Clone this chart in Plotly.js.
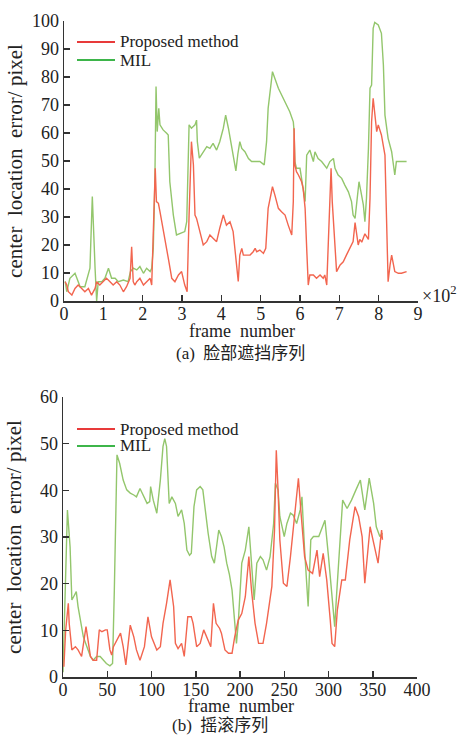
<!DOCTYPE html>
<html><head><meta charset="utf-8">
<script src="https://cdn.plot.ly/plotly-3.0.1.min.js"></script>
<style>html,body{margin:0;padding:0;background:#fff}</style>
</head><body>
<div id="chart" style="width:460px;height:738px"></div>
<script>
// ---------- data ----------
const seriesNames = ['Proposed method', 'MIL'];

// (a) face occlusion sequence (x in frames)
const aProposedFrames = [3,7,11,20,28,36,45,53,62,70,79,83,91,100,108,117,125,134,142,151,159,168,172,176,180,185,193,202,210,219,223,225,229,232,235,240,244,252,261,266,274,282,291,299,307,313,318,322,324,329,333,337,346,354,363,371,379,388,396,405,413,422,430,437,443,447,452,456,464,473,481,486,490,498,507,513,519,530,536,545,553,562,570,579,583,585,587,591,596,600,604,608,613,617,621,625,634,642,651,659,663,668,672,676,679,682,689,693,702,710,718,727,735,740,744,748,752,757,765,774,778,782,786,790,795,799,807,816,820,824,829,833,841,850,858,867,871];
const aProposedError = [6.9,5.7,3.3,2.1,4.5,5.7,4.5,3.3,4.5,2.1,4.5,6.9,5.7,6.9,8.1,6.9,5.7,6.9,5.7,3.3,5.1,8.1,19.4,6.9,5.7,6.9,8.1,5.7,6.9,8.1,5.7,14.0,30.7,47.4,35.5,34.9,31.9,26.0,18.8,14.6,8.1,6.9,9.3,10.5,5.7,3.3,30.7,52.1,56.9,48.6,30.7,29.5,24.8,20.0,21.2,23.6,22.4,21.2,26.0,30.7,27.1,28.3,24.8,16.0,7.0,16.4,18.8,16.4,16.4,16.4,17.6,18.8,17.6,18.2,17.0,18.8,33.1,40.8,37.9,33.1,31.9,30.7,27.1,23.6,35.5,61.7,48.6,46.2,45.0,43.8,42.6,40.2,33.1,18.8,5.7,9.3,9.3,8.1,9.3,8.1,9.3,5.7,18.8,35.5,47.4,35.5,18.8,10.5,12.9,14.0,16.4,18.8,21.2,28.0,24.0,20.0,22.0,21.0,24.0,22.0,36.7,64.0,72.4,66.4,60.5,62.9,59.3,52.1,30.7,6.9,12.9,16.4,10.5,9.9,9.9,10.5,10.5];
const aMilFrames = [3,7,15,28,41,53,66,72,79,83,87,96,104,113,121,130,138,151,163,169,176,185,193,202,210,219,223,227,231,234,237,241,244,252,261,265,269,278,286,295,307,312,316,318,324,333,337,339,344,354,363,371,379,388,396,405,411,418,426,432,437,442,447,452,460,469,477,486,498,509,515,519,524,530,545,562,574,583,585,587,591,600,604,608,613,617,621,625,634,638,646,655,668,676,685,689,697,706,714,723,731,735,740,744,750,755,761,765,769,774,778,782,784,786,790,799,807,812,816,824,833,841,845,858,871];
const aMilError = [7,3.3,8.1,9.9,5.1,5.1,11.7,37.3,11.7,0,6.9,6.9,8.1,11.7,8.1,8.1,6.9,7.5,6.9,10.5,11.7,11.1,12.3,9.9,11.7,10.5,11.7,18.8,42.6,76.6,60.5,68.8,62.9,61.1,59.9,59.3,42.6,30.7,23.6,24.2,24.8,28.3,54.5,62.9,61.7,62.9,64.6,56.9,51.0,53.3,55.1,54.5,56.3,53.9,56.9,61.7,66.4,61.7,55.7,50.0,46.5,52.5,56.9,54.5,53.3,50.9,49.8,49.8,49.8,48.6,56.9,68.8,74.8,81.9,76.0,71.2,67.6,64.0,60.5,49.8,47.4,47.4,43.8,39.0,35.5,52.1,53.3,53.9,49.8,53.3,50.9,49.8,47.4,49.8,50.9,47.4,45.0,43.8,41.4,39.0,35.5,30.7,29.5,35.5,42.6,39.0,34.3,28.3,36.7,54.5,76.0,77.1,90.2,97.4,99.5,98.6,95.6,84.3,66.4,58.1,53.3,45.0,49.8,49.8,49.8];

// (b) rock sequence
const bProposedFrames = [1,3,6,7,10,14,17,21,26,29,31,34,38,41,44,48,50,53,55,57,61,65,68,71,76,80,83,87,92,96,100,106,110,113,117,121,125,127,130,134,137,141,145,147,151,155,159,162,167,170,173,177,179,183,187,191,194,198,202,206,210,213,217,221,226,230,236,239,241,243,245,249,253,257,262,266,269,273,277,282,287,290,294,298,302,304,307,310,315,319,324,330,334,338,341,347,352,356,360,361];
const bProposedError = [2.2,10,15.8,11.5,5.8,6.5,5.8,4.4,10.8,6.5,4.4,3.6,3.6,10.1,9.7,10.1,10.1,5.8,4.7,6.5,7.9,9.4,6.5,2.6,11.1,8.6,5.8,3.6,6.5,12.9,8.6,5.8,6.5,11.5,15.8,20.8,15.1,7.2,6.1,7.2,4.4,12.9,12.9,11.5,6.5,7.2,10.1,8.6,6.5,15.8,11.5,10.4,9.4,5.8,5.1,5.1,8.6,12.2,13.6,17.2,25.8,18.6,11.5,7.2,7.2,11.5,19.4,31.5,48.6,40.1,29.4,20.1,19.4,25.8,34.4,42.6,35.1,25.8,22.9,22.2,27.2,21.5,26.5,20.8,12.2,7.2,6.5,14.4,20.8,20.8,29.4,36.5,34.4,30.1,20.1,32.2,27.9,24.4,31.5,29.4];
const bMilFrames = [0,3,5,8,10,12,15,17,20,23,27,31,34,38,42,46,49,53,56,58,60,61,64,68,72,76,80,83,87,91,95,98,99,102,106,110,113,115,117,120,123,127,130,134,137,140,143,145,148,151,155,158,160,164,168,171,174,176,179,182,185,188,191,194,196,198,202,206,210,213,216,219,223,226,230,234,238,240,243,245,250,253,257,260,264,268,270,273,277,280,283,289,292,296,300,304,307,309,313,316,321,326,331,336,341,346,351,354,358,361];
const bMilError = [1,20,35.8,27.9,16.5,17.2,18.3,15.1,11.5,8.6,6.5,4.4,3.6,4.4,4.4,3.6,2.9,2.4,2.9,18.6,36.5,47.6,45.8,42.2,40.1,39.4,39,38.6,40.4,38.6,37.2,37.6,40.8,37.9,35.1,42.2,49.4,51.1,49.4,37.2,38.6,37.2,34.4,35.8,32.9,27.2,26.1,26.5,36.5,40.1,40.8,40.1,36.5,30.8,25.8,24.4,28.6,31.5,30.1,27.9,24.4,22,18.6,11.5,7.2,11.5,24.4,27.2,32.2,24.4,16.5,24.4,25.8,25.1,22.9,25.8,32.9,41.5,40.1,34.4,30.1,32.9,35.1,34.7,32.9,35.8,38.6,27.2,15.1,29.4,30.1,30.1,31.5,33.6,25.8,17.2,10.8,17.2,27.9,37.9,36.1,37.9,40.1,42.2,35.8,42.6,37.2,32.2,30.1,30.8];

// ticks
const aTickVals = [0,100,200,300,400,500,600,700,800,900];
const aTickText = ['0','1','2','3','4','5','6','7','8','9'];
const aYTicks = [0,10,20,30,40,50,60,70,80,90,100];
const bXTicks = [0,50,100,150,200,250,300,350,400];
const bYTicks = [0,10,20,30,40,50,60];

const axisTitleX = 'frame\u00a0\u00a0number';
const axisTitleY = 'center\u00a0\u00a0location\u00a0\u00a0error/\u00a0pixel';
const captionA = '(a)\u00a0\u00a0脸部遮挡序列';
const captionB = '(b)\u00a0\u00a0摇滚序列';
const scaleNote = '×10<sup>2</sup>';

// ---------- styling ----------
const W = 460, H = 738;
const fx = p => p / W, fy = p => 1 - p / H;
const serif = 'Liberation Serif, Times New Roman, serif';
const cjk = 'Liberation Serif, Noto Sans CJK SC, serif';
const redLine = '#f2654f', greenLine = '#93c66c';
const redKey = '#e83a3a', greenKey = '#3db54a';
const axCol = '#333';
const textCol = '#222';
const tickFont = {family: serif, size: 18, color: textCol};

function baseAxis(extra) {
  return Object.assign({
    showline: true, linecolor: axCol, linewidth: 1.5,
    ticks: 'inside', ticklen: 6, tickwidth: 1.5, tickcolor: axCol,
    showgrid: false, zeroline: false, tickfont: tickFont, fixedrange: true
  }, extra);
}

const traces = [
  {x: aMilFrames, y: aMilError, name: seriesNames[1], type: 'scatter', mode: 'lines',
   line: {color: greenLine, width: 1.4}, xaxis: 'x', yaxis: 'y', showlegend: false},
  {x: aProposedFrames, y: aProposedError, name: seriesNames[0], type: 'scatter', mode: 'lines',
   line: {color: redLine, width: 1.4}, xaxis: 'x', yaxis: 'y', showlegend: false},
  {x: bMilFrames, y: bMilError, name: seriesNames[1], type: 'scatter', mode: 'lines',
   line: {color: greenLine, width: 1.4}, xaxis: 'x2', yaxis: 'y2', showlegend: false},
  {x: bProposedFrames, y: bProposedError, name: seriesNames[0], type: 'scatter', mode: 'lines',
   line: {color: redLine, width: 1.4}, xaxis: 'x2', yaxis: 'y2', showlegend: false}
];

// legend keys (manual)
function legendShapes(y1, y2) {
  return [
    {type: 'line', xref: 'paper', yref: 'paper', x0: fx(77), x1: fx(115), y0: fy(y1), y1: fy(y1), line: {color: redKey, width: 2}},
    {type: 'line', xref: 'paper', yref: 'paper', x0: fx(77), x1: fx(115), y0: fy(y2), y1: fy(y2), line: {color: greenKey, width: 2}}
  ];
}
function legendLabels(y1, y2) {
  const f = {family: serif, size: 17, color: textCol};
  return [
    {text: seriesNames[0], xref: 'paper', yref: 'paper', x: fx(118), y: fy(y1), xanchor: 'left', yanchor: 'middle', showarrow: false, font: f},
    {text: seriesNames[1], xref: 'paper', yref: 'paper', x: fx(118), y: fy(y2), xanchor: 'left', yanchor: 'middle', showarrow: false, font: f}
  ];
}
function xTitle(cx, cy) {
  return {text: axisTitleX, xref: 'paper', yref: 'paper', x: fx(cx), y: fy(cy), xanchor: 'center', yanchor: 'middle',
          showarrow: false, font: {family: serif, size: 18, color: textCol}};
}

const layout = {
  width: W, height: H,
  margin: {l: 0, r: 0, t: 0, b: 0},
  paper_bgcolor: '#fff', plot_bgcolor: '#fff',
  showlegend: false,
  xaxis: baseAxis({domain: [fx(64), fx(418)], anchor: 'y', range: [0, 900],
    tickmode: 'array', tickvals: aTickVals, ticktext: aTickText, ticklabelstandoff: -4}),
  yaxis: baseAxis({domain: [fy(301), fy(21)], anchor: 'x', range: [0, 100],
    tickmode: 'array', tickvals: aYTicks,
    title: {text: axisTitleY, font: {family: serif, size: 21, color: textCol}, standoff: 3}}),
  xaxis2: baseAxis({domain: [fx(63), fx(417)], anchor: 'y2', range: [0, 400],
    tickmode: 'array', tickvals: bXTicks, ticklabelstandoff: -4}),
  yaxis2: baseAxis({domain: [fy(677), fy(397)], anchor: 'x2', range: [0, 60],
    tickmode: 'array', tickvals: bYTicks,
    title: {text: axisTitleY, font: {family: serif, size: 21, color: textCol}, standoff: 12}}),
  shapes: [...legendShapes(42, 60), ...legendShapes(429, 446)],
  annotations: [
    ...legendLabels(42, 60), ...legendLabels(429, 446),
    xTitle(242, 331), xTitle(241, 706),
    {text: scaleNote, xref: 'paper', yref: 'paper', x: fx(420), y: fy(294), xanchor: 'left', yanchor: 'middle',
     showarrow: false, font: {family: serif, size: 18, color: textCol}},
    {text: captionA, xref: 'paper', yref: 'paper', x: fx(240), y: fy(353), xanchor: 'center', yanchor: 'middle',
     showarrow: false, font: {family: cjk, size: 17, color: textCol}},
    {text: captionB, xref: 'paper', yref: 'paper', x: fx(220), y: fy(725), xanchor: 'center', yanchor: 'middle',
     showarrow: false, font: {family: cjk, size: 17, color: textCol}}
  ]
};

Plotly.newPlot('chart', traces, layout, {displayModeBar: false, staticPlot: true});
</script>
</body></html>
